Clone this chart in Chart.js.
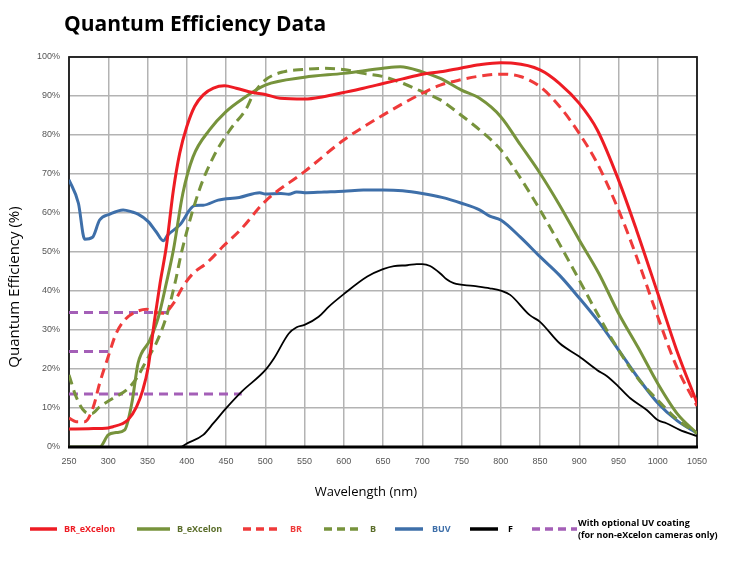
<!DOCTYPE html>
<html><head><meta charset="utf-8">
<script src="https://cdn.jsdelivr.net/npm/chart.js@4"></script>
<style>html,body{margin:0;padding:0;background:#fff}canvas{display:block}</style>
</head><body>
<canvas id="c" width="730" height="562"></canvas>
<script>
// ---- data (wavelength nm, QE %) ----
const wlBRe = [250,275,300,306,317,325,336,344,351,359,366,374,383,391,400,410,421,434,448,463,484,500,519,550,574,600,625,650,675,700,723,750,773,800,816,850,875,900,923,950,973,1000,1024,1050];
const qeBRe = [4.6,4.7,4.9,5.2,5.9,6.9,10.3,14.6,20.6,32.6,42,51.4,65.9,75.3,82.1,87.3,90.3,92.0,92.6,92.0,90.9,90.4,89.4,89.2,89.8,90.9,92.0,93.2,94.4,95.6,96.2,97.2,98.0,98.5,98.4,96.7,93.2,88.1,81.3,68.5,55.6,39.4,24.9,11.3];

const wlBe = [250,289,300,310,321,330,338,353,364,374,383,395,408,429,450,472,500,550,600,650,672,700,723,750,773,800,825,850,875,900,925,950,975,1000,1025,1050];
const qeBe = [0,0,3.1,3.7,4.4,11.2,21.5,27.4,33.4,42,50.5,65,74.4,81.3,86,89.4,92.8,94.8,95.8,97.1,97.5,96.2,94.5,91.5,89.4,84.7,77.5,70.2,62,53.1,44.5,34.3,25.5,16.3,8.5,3.5];

const wlBR = [250,259,270,281,289,300,310,321,336,349,357,370,383,395,408,425,440,446,468,500,550,600,650,700,723,750,773,800,825,850,875,900,923,950,973,1000,1024,1050];
const qeBR = [7.4,6.5,6.5,10.3,16.3,23.2,29.1,32.6,34.7,35.3,34.7,34.3,36.8,41.1,44.5,47.1,50.1,51.4,55.6,63.0,70.6,78.7,85.1,90.7,92.8,94.2,95.1,95.6,95.0,92.4,87.3,80.4,72.7,60.8,48.8,33.4,20.6,10.5];

const wlB = [250,259,270,279,289,306,323,336,349,361,374,385,394,416,434,455,476,485,500,523,550,574,600,625,650,676,700,723,750,775,800,825,850,875,900,925,950,975,1000,1025,1050];
const qeB = [18.5,12.9,9.1,8.6,10.3,12.5,14.6,17.6,22.3,26.6,33.4,42,50.5,65.9,74.4,81.3,86.8,90.5,94.1,96.2,96.8,97.1,96.8,95.8,95.0,93.2,91.1,89,85,81,76.2,69,60.8,52,42.8,33.5,24.9,17.5,12,7,3.5];

const wlBUV = [250,262,270,280,289,302,319,330,338,351,361,370,376,391,410,421,440,467,493,500,520,530,540,550,575,600,625,650,675,700,725,750,773,786,800,825,850,875,900,925,950,975,1000,1025,1050];
const qeBUV = [68.5,62.5,53.3,53.8,58.2,59.7,60.8,60.3,59.7,57.8,55.2,52.9,54.4,56.9,61.9,62.0,63.3,64.0,65.2,64.9,65.0,64.8,65.4,65.2,65.4,65.6,65.9,65.9,65.7,65.0,64.0,62.5,60.8,59.2,58.2,53.8,48.8,44,38.2,32,24.9,17.7,11.3,6.7,3.6];

const wlF = [250,391,401,421,434,450,470,500,511,530,540,550,568,581,600,630,650,664,681,693,700,710,723,731,740,765,786,800,812,837,850,875,900,923,935,950,965,986,1000,1011,1028,1050];
const qeF = [0,0,1,3.1,6.1,9.9,14.2,19.7,22.7,29.1,30.7,31.3,33.4,36,39.2,43.7,45.6,46.4,46.6,46.9,46.9,46.4,44.5,43,42,41.3,40.7,40.1,39,33.8,32.1,26.6,23.2,19.7,18.2,15.5,12.5,9.5,6.9,6.1,4.4,2.8];

// UV coating levels (horizontal dashed segments): [start nm, end nm, QE %]
const uvStart = [250,250,250];
const uvEnd   = [375,305,470];
const uvLevel = [34.5,24.5,13.6];

const xTicks = [250,300,350,400,450,500,550,600,650,700,750,800,850,900,950,1000,1050];

const legendNames = ['BR_eXcelon','B_eXcelon','BR','B','BUV','F','With optional UV coating|(for non-eXcelon cameras only)'];

// ---- styles ----
const RED='#ee1c24', RED2='#ef3a3a', GREEN='#77933c', BLUE='#3e6fa9', BLACK='#000000', PURPLE='#a45fb7';
function pts(w,q){return w.map((x,i)=>({x:x,y:q[i]}));}

const datasets = [];
for(let k=0;k<3;k++){
  datasets.push({label:'uv'+k,data:[{x:uvStart[k],y:uvLevel[k]},{x:uvEnd[k],y:uvLevel[k]}],borderColor:PURPLE,borderWidth:3,borderDash:[9,6],pointRadius:0,tension:0,order:10});
}
datasets.push({label:'F',data:pts(wlF,qeF),borderColor:BLACK,borderWidth:1.8,pointRadius:0,cubicInterpolationMode:'monotone',order:6});
datasets.push({label:'BUV',data:pts(wlBUV,qeBUV),borderColor:BLUE,borderWidth:3,pointRadius:0,cubicInterpolationMode:'monotone',order:5});
datasets.push({label:'B',data:pts(wlB,qeB),borderColor:GREEN,borderWidth:3,borderDash:[10,6],pointRadius:0,cubicInterpolationMode:'monotone',order:4});
datasets.push({label:'BR',data:pts(wlBR,qeBR),borderColor:RED2,borderWidth:3,borderDash:[10,6],pointRadius:0,cubicInterpolationMode:'monotone',order:3});
datasets.push({label:'B_eXcelon',data:pts(wlBe,qeBe),borderColor:GREEN,borderWidth:3,pointRadius:0,cubicInterpolationMode:'monotone',order:2});
datasets.push({label:'BR_eXcelon',data:pts(wlBRe,qeBRe),borderColor:RED,borderWidth:3,pointRadius:0,cubicInterpolationMode:'monotone',order:1});

const frame = {
  id:'frame',
  beforeDatasetsDraw(chart){
    const {ctx,chartArea:a}=chart;
    ctx.save();
    ctx.strokeStyle='#1a1a1a';ctx.lineWidth=1.8;
    ctx.strokeRect(a.left,a.top,a.right-a.left,a.bottom-a.top);
    ctx.restore();
  },
  afterDraw(chart){
    const {ctx,chartArea:a}=chart;
    ctx.save();
    ctx.strokeStyle='#000';ctx.lineWidth=3;
    ctx.beginPath();ctx.moveTo(a.left-1,a.bottom);ctx.lineTo(a.right+1,a.bottom);ctx.stroke();
    // title
    ctx.fillStyle='#000';
    ctx.font='bold 21px "Open Sans"';
    ctx.textBaseline='alphabetic';ctx.textAlign='left';
    ctx.fillText('Quantum Efficiency Data',64,31);
    // axis titles
    ctx.font='13px "Open Sans"';
    ctx.textAlign='center';ctx.textBaseline='middle';
    ctx.fillText('Wavelength (nm)',366,492);
    ctx.font='15px "Open Sans"';
    ctx.save();ctx.translate(15,287);ctx.rotate(-Math.PI/2);
    ctx.fillText('Quantum Efficiency (%)',0,0);ctx.restore();
    // legend
    const items=[
      {x1:30,x2:57,tx:64,c:RED,tc:RED,dash:[]},
      {x1:137,x2:170,tx:177,c:GREEN,tc:'#5b6e2b',dash:[]},
      {x1:243,x2:280,tx:290,c:RED2,tc:RED2,dash:[8,5]},
      {x1:324,x2:361,tx:370,c:GREEN,tc:'#5b6e2b',dash:[8,5]},
      {x1:395,x2:423,tx:432,c:BLUE,tc:BLUE,dash:[]},
      {x1:470,x2:498,tx:508,c:BLACK,tc:'#000',dash:[]},
      {x1:532,x2:577,tx:578,c:PURPLE,tc:'#000',dash:[8,5]}
    ];
    const ly=529;
    ctx.textAlign='left';ctx.textBaseline='middle';
    ctx.font='bold 9px "Open Sans"';
    items.forEach((it,i)=>{
      ctx.strokeStyle=it.c;ctx.lineWidth=3.5;ctx.setLineDash(it.dash);
      ctx.beginPath();ctx.moveTo(it.x1,ly);ctx.lineTo(it.x2,ly);ctx.stroke();
      ctx.setLineDash([]);
      ctx.fillStyle=it.tc;
      const lines=legendNames[i].split('|');
      if(lines.length===1){ctx.fillText(lines[0],it.tx,ly);}
      else{ctx.fillText(lines[0],it.tx,ly-6);ctx.fillText(lines[1],it.tx,ly+6);}
    });
    ctx.restore();
  }
};

new Chart(document.getElementById('c'),{
  type:'line',
  data:{datasets:datasets},
  options:{
    responsive:false,animation:false,devicePixelRatio:1,
    layout:{padding:{top:57,right:33,bottom:85,left:0}},
    plugins:{legend:{display:false},title:{display:false},tooltip:{enabled:false}},
    scales:{
      x:{type:'linear',min:250,max:1050,
        afterFit(s){s.height=30;},
        afterBuildTicks(s){s.ticks=xTicks.map(v=>({value:v}));},
        grid:{color:'#b3b3b3',lineWidth:1.5,drawTicks:false},
        border:{display:false},
        ticks:{padding:9,color:'#555',font:{family:'"Liberation Sans"',size:9},maxRotation:0,autoSkip:false,callback:v=>String(v)}},
      y:{type:'linear',min:0,max:100,
        afterFit(s){s.width=69;},
        grid:{color:'#b3b3b3',lineWidth:1.5,drawTicks:false},
        border:{display:false},
        ticks:{stepSize:10,padding:9,color:'#555',font:{family:'"Liberation Sans"',size:9},callback:v=>v+'%'}}
    }
  },
  plugins:[frame]
});
</script>
</body></html>
